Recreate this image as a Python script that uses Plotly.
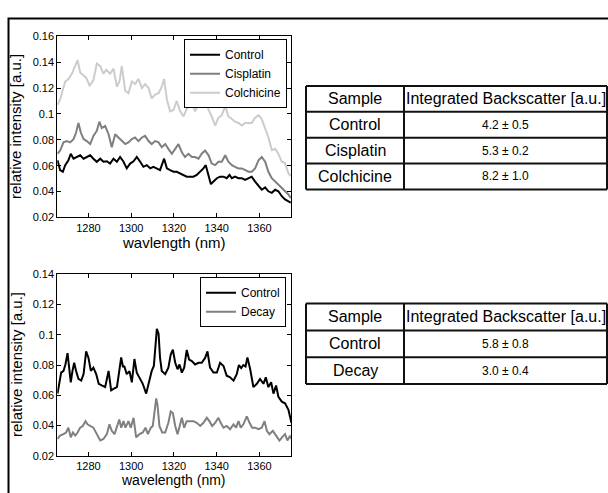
import plotly.graph_objects as go

# ---------------- data ----------------
top_ctrl_nm = [1265.5,1266.7,1268.0,1269.1,1270.6,1271.7,1273.0,1274.5,1276.1,1277.7,1279.2,1280.8,1282.3,1283.9,1285.5,1287.0,1288.6,1290.1,1291.7,1293.3,1294.8,1296.4,1297.9,1299.5,1301.1,1302.6,1304.2,1305.7,1307.3,1308.9,1310.4,1312.0,1313.5,1315.4,1316.7,1318.2,1319.8,1321.3,1322.9,1324.5,1326.0,1327.6,1329.1,1330.7,1332.3,1333.8,1334.9,1336.2,1337.3,1338.5,1340.1,1341.6,1343.2,1344.7,1346.0,1347.1,1348.6,1350.2,1351.8,1353.3,1354.9,1356.4,1358.0,1359.6,1361.1,1362.7,1364.2,1365.8,1367.4,1368.9,1370.5,1372.0,1373.6,1374.7]
top_ctrl = [0.0641,0.0566,0.0553,0.0604,0.0641,0.0692,0.0654,0.0667,0.0680,0.0654,0.0667,0.0680,0.0654,0.0630,0.0654,0.0630,0.0634,0.0616,0.0654,0.0630,0.0667,0.0630,0.0579,0.0616,0.0634,0.0667,0.0630,0.0591,0.0604,0.0579,0.0591,0.0579,0.0566,0.0654,0.0579,0.0566,0.0553,0.0553,0.0541,0.0528,0.0515,0.0515,0.0515,0.0528,0.0553,0.0579,0.0604,0.0528,0.0457,0.0477,0.0503,0.0515,0.0515,0.0503,0.0528,0.0503,0.0515,0.0503,0.0503,0.0490,0.0503,0.0515,0.0477,0.0440,0.0414,0.0432,0.0402,0.0390,0.0414,0.0402,0.0364,0.0339,0.0326,0.0314]

top_cis_nm = [1265.5,1266.7,1268.3,1269.9,1271.4,1273.0,1274.2,1275.3,1276.4,1277.7,1279.2,1280.8,1282.3,1283.9,1285.1,1286.2,1287.8,1289.4,1290.9,1292.5,1294.0,1295.6,1297.2,1298.7,1300.3,1301.8,1303.4,1305.0,1306.5,1308.1,1309.6,1311.2,1312.8,1314.3,1315.9,1317.4,1319.0,1320.6,1322.1,1323.7,1325.2,1326.8,1328.4,1329.9,1331.5,1333.0,1334.6,1336.2,1337.7,1339.3,1340.8,1342.4,1344.0,1345.5,1347.1,1348.6,1350.2,1351.8,1353.3,1354.9,1356.4,1358.0,1359.6,1361.1,1362.7,1364.2,1365.8,1367.4,1368.9,1370.5,1372.0,1373.6,1374.7]
top_cis = [0.0692,0.0717,0.0780,0.0790,0.0780,0.0805,0.0856,0.0930,0.0856,0.0805,0.0790,0.0767,0.0830,0.0870,0.0940,0.0890,0.0906,0.0843,0.0742,0.0843,0.0818,0.0790,0.0767,0.0780,0.0805,0.0818,0.0790,0.0818,0.0830,0.0790,0.0767,0.0790,0.0780,0.0742,0.0767,0.0730,0.0692,0.0730,0.0767,0.0704,0.0667,0.0692,0.0667,0.0667,0.0654,0.0692,0.0717,0.0680,0.0616,0.0604,0.0630,0.0630,0.0680,0.0630,0.0604,0.0591,0.0579,0.0579,0.0566,0.0553,0.0553,0.0579,0.0642,0.0667,0.0630,0.0553,0.0503,0.0477,0.0452,0.0427,0.0402,0.0377,0.0351]

top_col_nm = [1265.5,1266.7,1269.1,1270.6,1272.2,1273.8,1274.9,1276.1,1277.7,1278.9,1280.5,1282.3,1283.9,1285.5,1287.0,1288.3,1290.1,1291.7,1293.3,1294.5,1295.6,1297.2,1298.7,1300.3,1301.8,1303.4,1305.0,1306.5,1308.1,1309.6,1311.2,1312.8,1314.3,1315.4,1316.7,1318.2,1319.8,1321.3,1322.9,1324.5,1326.0,1328.4,1329.9,1331.5,1333.0,1334.6,1336.2,1337.7,1339.3,1340.8,1342.4,1344.0,1345.5,1347.1,1348.6,1350.2,1351.8,1353.3,1354.9,1356.4,1358.0,1359.6,1361.1,1362.7,1364.2,1365.8,1367.4,1368.9,1370.5,1372.0,1373.6,1374.7]
top_col = [0.107,0.111,0.125,0.127,0.131,0.137,0.1416,0.132,0.130,0.128,0.122,0.126,0.139,0.137,0.131,0.134,0.131,0.135,0.121,0.125,0.137,0.118,0.116,0.125,0.123,0.127,0.120,0.123,0.120,0.112,0.115,0.116,0.121,0.127,0.111,0.102,0.103,0.110,0.102,0.098,0.104,0.108,0.102,0.107,0.112,0.113,0.103,0.098,0.091,0.097,0.099,0.106,0.098,0.096,0.094,0.093,0.091,0.093,0.093,0.093,0.097,0.099,0.096,0.088,0.082,0.072,0.073,0.069,0.063,0.062,0.054,0.052]

bot_ctrl_nm = [1265.5,1266.4,1267.2,1268.3,1269.2,1270.2,1271.0,1271.7,1272.5,1273.3,1274.2,1275.3,1276.6,1277.7,1278.9,1280.0,1281.1,1282.3,1283.6,1284.8,1286.2,1287.8,1289.4,1290.6,1291.7,1293.3,1294.2,1295.3,1296.1,1296.8,1297.9,1299.2,1300.3,1301.5,1302.6,1303.9,1305.4,1307.0,1308.5,1309.6,1310.6,1311.4,1312.0,1312.8,1313.5,1314.3,1315.9,1317.4,1318.5,1319.5,1320.6,1321.7,1322.6,1323.7,1324.8,1326.0,1327.1,1328.4,1329.9,1331.5,1333.0,1334.6,1335.7,1336.9,1338.5,1340.1,1341.6,1343.2,1344.7,1346.3,1347.9,1349.4,1350.4,1351.5,1352.5,1353.5,1354.4,1355.7,1357.2,1358.8,1360.3,1361.9,1363.0,1364.2,1365.5,1366.6,1367.8,1368.9,1370.5,1372.0,1373.6,1375.0]
bot_ctrl = [0.0611,0.0697,0.0750,0.0761,0.0804,0.0879,0.0783,0.0686,0.0761,0.0815,0.0761,0.0708,0.0697,0.0740,0.0890,0.0847,0.0761,0.0783,0.0740,0.0676,0.0665,0.0654,0.0761,0.0633,0.0643,0.0654,0.0740,0.0850,0.0790,0.0790,0.0740,0.0760,0.0686,0.0840,0.0750,0.0719,0.0676,0.0611,0.0697,0.0761,0.0794,0.0976,0.1040,0.1008,0.0847,0.0761,0.0740,0.0783,0.0869,0.0901,0.0815,0.0772,0.0804,0.0750,0.0783,0.0900,0.0836,0.0826,0.0804,0.0815,0.0815,0.0847,0.0890,0.0783,0.0750,0.0750,0.0815,0.0794,0.0729,0.0719,0.0697,0.0740,0.0800,0.0780,0.0800,0.0790,0.0850,0.0772,0.0654,0.0676,0.0708,0.0676,0.0719,0.0654,0.0686,0.0611,0.0665,0.0590,0.0558,0.0547,0.0504,0.0418]

bot_decay_nm = [1265.5,1266.7,1268.3,1269.5,1270.6,1271.7,1272.7,1273.8,1274.9,1276.1,1277.3,1278.6,1279.5,1280.8,1282.3,1283.9,1285.5,1287.0,1288.6,1289.8,1290.9,1292.2,1293.3,1294.4,1295.3,1296.4,1297.3,1298.7,1299.8,1301.1,1302.3,1303.9,1305.4,1306.7,1307.8,1309.2,1310.1,1311.0,1311.7,1312.3,1313.2,1314.5,1315.9,1317.4,1318.5,1319.5,1320.6,1321.7,1322.6,1323.7,1324.8,1326.0,1327.6,1329.1,1330.7,1332.3,1333.8,1335.4,1336.6,1337.9,1339.3,1340.8,1341.9,1343.2,1344.7,1346.3,1347.9,1349.1,1350.2,1351.3,1352.5,1354.1,1355.4,1356.6,1358.0,1359.6,1361.1,1362.4,1363.5,1364.7,1366.3,1367.8,1369.4,1370.6,1372.0,1373.1,1374.4,1375.0]
bot_decay = [0.0311,0.0333,0.0343,0.0354,0.0386,0.0322,0.0354,0.0333,0.0354,0.0386,0.0397,0.0429,0.0408,0.0397,0.0386,0.0343,0.0301,0.0311,0.0343,0.0408,0.0365,0.0343,0.0386,0.0440,0.0386,0.0429,0.0386,0.0429,0.0386,0.0451,0.0322,0.0343,0.0354,0.0386,0.0343,0.0386,0.0397,0.0504,0.0579,0.0536,0.0397,0.0354,0.0354,0.0418,0.0493,0.0483,0.0397,0.0343,0.0386,0.0451,0.0386,0.0429,0.0429,0.0429,0.0418,0.0397,0.0418,0.0451,0.0429,0.0397,0.0418,0.0451,0.0418,0.0386,0.0397,0.0376,0.0408,0.0386,0.0429,0.0386,0.0408,0.0461,0.0418,0.0386,0.0386,0.0376,0.0386,0.0429,0.0365,0.0343,0.0365,0.0333,0.0301,0.0322,0.0343,0.0301,0.0333,0.0311]

x_ticks = [1280, 1300, 1320, 1340, 1360]
top_y_ticks = [0.02, 0.04, 0.06, 0.08, 0.10, 0.12, 0.14, 0.16]
top_y_labels = ["0.02", "0.04", "0.06", "0.08", "0.1", "0.12", "0.14", "0.16"]
bot_y_ticks = [0.02, 0.04, 0.06, 0.08, 0.10, 0.12, 0.14]
bot_y_labels = ["0.02", "0.04", "0.06", "0.08", "0.1", "0.12", "0.14"]

table_header = ["Sample", "Integrated Backscatter [a.u.]"]
table1_samples = ["Control", "Cisplatin", "Colchicine"]
table1_values = ["4.2 ± 0.5", "5.3 ± 0.2", "8.2 ± 1.0"]
table2_samples = ["Control", "Decay"]
table2_values = ["5.8 ± 0.8", "3.0 ± 0.4"]

# ---------------- figure ----------------
W, H = 608, 493
FONT = "Liberation Sans, Arial, Helvetica, sans-serif"

def px(x):
    return x / W

def py(y):
    return 1 - y / H

fig = go.Figure()
fig.add_trace(go.Scatter(x=top_ctrl_nm, y=top_ctrl, mode="lines", name="Control",
                         line=dict(color="#000000", width=2), xaxis="x", yaxis="y", legend="legend"))
fig.add_trace(go.Scatter(x=top_cis_nm, y=top_cis, mode="lines", name="Cisplatin",
                         line=dict(color="#7f7f7f", width=2), xaxis="x", yaxis="y", legend="legend"))
fig.add_trace(go.Scatter(x=top_col_nm, y=top_col, mode="lines", name="Colchicine",
                         line=dict(color="#cccccc", width=2), xaxis="x", yaxis="y", legend="legend"))
fig.add_trace(go.Scatter(x=bot_ctrl_nm, y=bot_ctrl, mode="lines", name="Control",
                         line=dict(color="#000000", width=2), xaxis="x2", yaxis="y2", legend="legend2"))
fig.add_trace(go.Scatter(x=bot_decay_nm, y=bot_decay, mode="lines", name="Decay",
                         line=dict(color="#808080", width=2), xaxis="x2", yaxis="y2", legend="legend2"))

axis_common = dict(showline=True, linecolor="black", linewidth=1, mirror="allticks",
                   ticks="inside", ticklen=4, tickcolor="black", showgrid=False, zeroline=False,
                   tickfont=dict(size=11, color="black", family=FONT))

x_dom = [px(57.3), px(291)]
fig.update_layout(
    width=W, height=H, margin=dict(l=0, r=0, t=0, b=0),
    paper_bgcolor="white", plot_bgcolor="white",
    font=dict(family=FONT, color="black"),
    xaxis=dict(domain=x_dom, anchor="y", range=[1265.4, 1374.8], tickvals=x_ticks, **axis_common),
    yaxis=dict(domain=[py(216.7), py(31)], anchor="x", range=[0.02, 0.16],
               tickvals=top_y_ticks, ticktext=top_y_labels, **axis_common),
    xaxis2=dict(domain=x_dom, anchor="y2", range=[1265.4, 1374.8], tickvals=x_ticks, **axis_common),
    yaxis2=dict(domain=[py(461), py(275)], anchor="x2", range=[0.02, 0.14],
                tickvals=bot_y_ticks, ticktext=bot_y_labels, **axis_common),
    legend=dict(x=px(287), y=py(34), xanchor="right", yanchor="top", bgcolor="white",
                bordercolor="black", borderwidth=1, font=dict(size=12, family=FONT),
                itemwidth=30, tracegroupgap=0),
    legend2=dict(x=px(286), y=py(278), xanchor="right", yanchor="top", bgcolor="white",
                 bordercolor="black", borderwidth=1, font=dict(size=12, family=FONT),
                 itemwidth=30, tracegroupgap=0),
)

annotations = []
shapes = []

def label(text, x, y, size, angle=0):
    annotations.append(dict(text=text, x=px(x), y=py(y), xref="paper", yref="paper",
                            xanchor="center", yanchor="middle", textangle=angle,
                            showarrow=False, font=dict(size=size)))

# axis titles
label("relative intensity [a.u.]", 16, 124, 15, -90)
label("relative intensity [a.u.]", 16, 368, 15, -90)
label("wavlength (nm)", 174, 242, 15)
label("wavelength (nm)", 174, 485.5, 14)

# outer frame
shapes.append(dict(type="rect", xref="paper", yref="paper", x0=px(8.5), x1=1.05, y0=-0.05, y1=py(12.8),
                   line=dict(color="black", width=2)))

# tables
def add_table(top, row_h, samples, values):
    n = len(samples) + 1
    left, mid, right = 306, 404, 607
    bottom = top + n * row_h
    lc = dict(color="#111111", width=2)
    for i in range(n + 1):
        yy = top + i * row_h
        shapes.append(dict(type="line", xref="paper", yref="paper", x0=px(left), x1=px(right),
                           y0=py(yy), y1=py(yy), line=lc))
    for xx in (left, mid, right):
        shapes.append(dict(type="line", xref="paper", yref="paper", x0=px(xx), x1=px(xx),
                           y0=py(top), y1=py(bottom), line=lc))
    c1 = (left + mid) / 2
    c2 = (mid + right) / 2
    label(table_header[0], c1, top + row_h / 2, 16)
    label(table_header[1], c2, top + row_h / 2, 16)
    for i, (s, v) in enumerate(zip(samples, values)):
        yc = top + (i + 1.5) * row_h
        label(s, c1, yc, 16)
        label(v, c2, yc, 12)

add_table(82, 26.5, table1_samples, table1_values)
add_table(305, 27.5, table2_samples, table2_values)

fig.update_layout(annotations=annotations, shapes=shapes)

# pin the figure to the window's top-left corner so that it fills the 608x493 window exactly
pin = ("document.body.style.margin='0';document.body.style.overflow='hidden';"
       "var d=document.getElementById('{plot_id}');d.style.position='fixed';"
       "d.style.left='0px';d.style.top='0px';")
fig.write_html("out.html", post_script=pin, config={"displayModeBar": False})
